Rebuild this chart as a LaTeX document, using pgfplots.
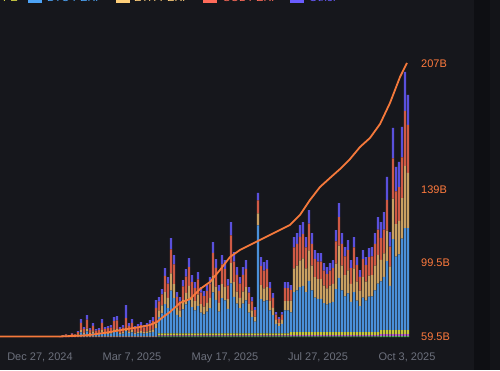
\documentclass[border=0pt]{standalone}
\usepackage{fontspec}
\setmainfont{Liberation Sans}
\usepackage{pgfplots}
\usepackage{pgfplotstable}
\pgfplotsset{compat=1.18}
\definecolor{bg}{RGB}{22,23,28}
\definecolor{strip}{RGB}{14,15,19}
\definecolor{strip2}{RGB}{19,20,24}
\definecolor{btc}{RGB}{74,144,217}
\definecolor{eth}{RGB}{201,160,98}
\definecolor{sol}{RGB}{207,90,69}
\definecolor{oth}{RGB}{90,80,220}
\definecolor{lime}{RGB}{200,200,60}
\definecolor{pink}{RGB}{180,90,200}
\definecolor{grn}{RGB}{76,175,80}
\definecolor{cum}{RGB}{245,121,59}
\definecolor{lab}{RGB}{255,122,61}
\definecolor{gtxt}{RGB}{108,112,124}
\definecolor{lgblue}{RGB}{77,163,245}
\definecolor{lgyel}{RGB}{255,207,122}
\definecolor{lgred}{RGB}{255,107,90}
\definecolor{lgpur}{RGB}{106,92,255}
\definecolor{lglime}{RGB}{220,220,70}

\pgfplotstableread{
x G P L btc eth sol oth
60 0 0.3 0.7 0 0 0 0
63 0 0.3 0.7 0.3 0.1 0.4 0.2
66 0 0.3 0.7 0.4 0.3 0.9 0.4
69 0 0.3 0.7 0.2 0.1 0.5 0.2
72 0 0.3 0.7 0.7 0.4 1.3 0.6
75 0 0.3 0.7 0.4 0.3 0.9 0.4
78 0 0.3 0.7 1.0 0.7 2.2 1.1
81 0 0.3 0.7 3.7 2.2 7.3 3.8
84 0 0.3 0.7 2.0 1.2 3.9 1.9
87 0 0.3 0.7 4.6 2.7 9.0 4.7
90 0 0.3 0.7 1.8 1.0 3.4 1.8
93 0 0.3 0.7 2.9 1.7 5.6 2.8
96 0 0.3 0.7 1.5 0.9 3.0 1.6
99 0 0.3 0.7 1.8 1.0 3.4 1.8
102 0 0.3 0.7 3.7 2.2 7.3 3.8
105 0 0.3 0.7 2.0 1.2 3.9 1.9
108 0 0.3 0.7 2.2 1.3 4.3 2.2
111 0 0.3 0.7 2.4 1.4 4.7 2.5
114 0 0.3 0.7 4.2 2.5 8.2 4.1
117 0 0.3 0.7 4.4 2.6 8.6 4.4
120 0 0.3 0.7 2.0 1.2 3.9 1.9
123 0 0.3 0.7 2.4 1.4 4.7 2.5
126 0 0.3 0.7 5.0 3.0 10.0 13.0
129 0 0.3 0.7 2.9 1.7 5.6 2.8
132 0 0.3 0.7 3.7 2.2 7.3 3.8
135 0 0.3 0.7 2.2 1.3 4.3 2.2
138 0 0.3 0.7 2.6 1.6 5.2 2.6
141 0 0.3 0.7 3.1 1.8 6.0 3.1
144 0 0.3 0.7 2.4 1.4 4.7 2.5
147 0 0.3 0.7 2.9 1.7 5.6 2.8
150 0 0.3 0.7 3.5 2.1 6.9 3.5
153 0 0.3 0.7 4.2 2.5 8.2 4.1
156 0 0.3 0.7 7.9 4.7 15.5 7.9
159 0.6 1 2 16.4 6.6 9.1 4.3
162 0.6 1 2 20.0 8.0 11.1 5.3
165 0.6 1 2 29.4 11.8 16.4 7.8
168 0.6 1 2 25.4 10.2 14.1 6.7
171 0.6 1 2 42.9 17.2 23.9 11.4
174 0.6 1 2 35.3 14.1 19.6 9.4
177 0.6 1 2 18.6 7.5 10.4 4.9
180 0.6 1 2 16.4 6.6 9.1 4.3
183 0.6 1 2 24.0 9.6 13.4 6.4
186 0.6 1 2 29.0 11.6 16.1 7.7
189 0.6 1 2 33.9 13.6 18.9 9.0
192 0.6 1 2 26.3 10.5 14.6 7.0
195 0.6 1 2 23.1 9.3 12.9 6.1
198 0.6 1 2 27.6 11.1 15.4 7.3
201 0.6 1 2 20.9 8.4 11.6 5.5
204 0.6 1 2 19.1 7.6 10.6 5.1
207 0.6 1 2 21.8 8.7 12.1 5.8
210 0.6 1 2 25.4 10.2 14.1 6.7
213 0.6 1 2 41.1 16.5 22.9 10.9
216 0.6 1 2 33.5 13.4 18.6 8.9
219 0.6 1 2 21.8 8.7 12.1 5.8
222 0.6 1 2 35.3 14.1 19.6 9.4
225 0.6 1 2 33.0 13.2 18.4 8.8
228 0.6 1 2 24.5 9.8 13.6 6.5
231 0.6 1 2 50.1 20.1 27.9 13.3
234 0.6 1 2 36.6 14.7 20.4 9.7
237 0.6 1 2 29.9 12.0 16.6 7.9
240 0.6 1 2 25.4 10.2 14.1 6.7
243 0.6 1 2 29.9 12.0 16.6 7.9
246 0.6 1 2 33.0 13.2 18.4 8.8
249 0.6 1 2 20.9 8.4 11.6 5.5
252 0.6 1 2 16.4 6.6 9.1 4.3
255 0.6 1 2 11.9 4.8 6.6 3.1
258 0.6 1 2 108.0 12.0 13.0 7.4
261 0.6 1 2 34.4 13.8 19.1 9.1
264 0.6 1 2 32.1 12.9 17.9 8.5
267 0.6 1 2 33.0 13.2 18.4 8.8
270 0.6 1 2 23.1 9.3 12.9 6.1
273 0.6 1 2 18.2 7.3 10.1 4.8
276 0.6 1 2 9.6 3.9 5.4 2.5
279 0.6 1 2 7.4 3.0 4.1 1.9
282 0.6 1 2 9.6 3.9 5.4 2.5
285 0.6 1 2 23.1 9.3 12.9 6.1
288 0.6 1 2 23.1 9.3 12.9 6.1
291 0.6 1.4 3 19.7 11.8 10.3 5.2
294 0.6 1.4 3 39.9 23.8 20.9 10.4
297 0.6 1.4 3 41.6 24.8 21.8 10.8
300 0.6 1.4 3 44.9 26.8 23.5 11.8
303 0.6 1.4 3 46.2 27.5 24.2 12.1
306 0.6 1.4 3 39.9 23.8 20.9 10.4
309 0.6 1.4 3 51.2 30.5 26.8 13.5
312 0.6 1.4 3 41.6 24.8 21.8 10.8
315 0.6 1.4 3 34.4 20.5 18.0 9.1
318 0.6 1.4 3 33.2 19.8 17.4 8.6
321 0.6 1.4 3 33.2 19.8 17.4 8.6
324 0.6 1.4 3 29.0 17.3 15.2 7.5
327 0.6 1.4 3 27.3 16.3 14.3 7.1
330 0.6 1.4 3 29.0 17.3 15.2 7.5
333 0.6 1.4 3 30.2 18.0 15.8 8.0
336 0.6 1.4 3 42.8 25.5 22.4 11.3
339 0.6 1.4 3 54.2 32.3 28.4 14.1
342 0.6 1.4 3 41.6 24.8 21.8 10.8
345 0.6 1.4 3 35.7 21.3 18.7 9.3
348 0.6 1.4 3 38.6 23.0 20.2 10.2
351 0.6 1.4 3 30.2 18.0 15.8 8.0
354 0.6 1.4 3 39.9 23.8 20.9 10.4
357 0.6 1.4 3 31.5 18.8 16.5 8.2
360 0.6 1.4 3 26.0 15.5 13.6 6.9
363 0.6 1.4 3 34.4 20.5 18.0 9.1
366 0.6 1.4 3 31.5 18.8 16.5 8.2
369 0.6 1.4 3 35.3 21.0 18.5 9.2
372 0.6 1.4 3 35.7 21.3 18.7 9.3
375 0.6 1.4 3 41.6 24.8 21.8 10.8
378 0.6 1.4 3 48.3 28.8 25.3 12.6
381 0.8 2 4.2 48.6 21.6 21.6 16.2
384 0.8 2 4.2 53.1 23.6 23.6 17.7
387 0.8 2 4.2 68.9 30.6 30.6 22.9
390 0.8 2 4.2 44.1 19.6 19.6 14.7
393 0.8 2 4.2 90.9 40.4 40.4 30.3
396 0.8 2 4.2 73.4 32.6 32.6 24.4
399 0.8 2 4.2 75.6 33.6 33.6 25.2
402 0.8 2 4.2 91.4 40.6 40.6 30.4
405 0.8 2 4.2 102.0 62.0 55.0 39.0
408 0.8 2 4.2 102.0 55.0 48.0 30.0
}\bars

\begin{document}
\begin{tikzpicture}[x=1pt,y=1pt]
\fill[bg] (0,0) rectangle (500,370);
\useasboundingbox (0,0) rectangle (500,370);
\clip (0,0) rectangle (500,370);
\fill[strip] (474,0) rectangle (490,370);
\fill[strip2] (490,0) rectangle (500,370);
% cropped legend at the top
\node[anchor=base east, inner sep=0pt, text=lglime, font=\fontsize{11}{13}\selectfont] at (18,368.6) {HYPE};
\fill[lgblue] (28,367) rectangle (42,381);
\node[anchor=base west, inner sep=0pt, text=lgblue, font=\fontsize{11}{13}\selectfont] at (47,368.6) {BTC-PERP};
\fill[lgyel] (116,367) rectangle (130,381);
\node[anchor=base west, inner sep=0pt, text=lgyel, font=\fontsize{11}{13}\selectfont] at (134,368.6) {ETH-PERP};
\fill[lgred] (203,367) rectangle (217,381);
\node[anchor=base west, inner sep=0pt, text=lgred, font=\fontsize{11}{13}\selectfont] at (223,368.6) {SOL-PERP};
\fill[lgpur] (290,367) rectangle (304,381);
\node[anchor=base west, inner sep=0pt, text=lgpur, font=\fontsize{11}{13}\selectfont] at (309,368.6) {Other};

\begin{axis}[
  at={(0pt,33pt)}, anchor=south west,
  scale only axis, width=410pt, height=300pt,
  xmin=0, xmax=410, ymin=0, ymax=300,
  ybar stacked, bar width=2.2pt,
  axis line style={draw=none}, tick style={draw=none},
  major tick length=0pt,
  ytick=\empty,
  xtick={40,132,225,318,407},
  xticklabels={{Dec 27, 2024},{Mar 7, 2025},{May 17, 2025},{Jul 27, 2025},{Oct 3, 2025}},
  xticklabel style={text=gtxt, font=\fontsize{11}{13}\selectfont, anchor=base, inner sep=0pt, yshift=-23pt},
  /pgf/number format/assume math mode=true,
]
\addplot[fill=grn, draw=none] table[x=x, y=G] {\bars};
\addplot[fill=pink, draw=none] table[x=x, y=P] {\bars};
\addplot[fill=lime, draw=none] table[x=x, y=L] {\bars};
\addplot[fill=btc, draw=none] table[x=x, y=btc] {\bars};
\addplot[fill=eth, draw=none] table[x=x, y=eth] {\bars};
\addplot[fill=sol, draw=none] table[x=x, y=sol] {\bars};
\addplot[fill=oth, draw=none] table[x=x, y=oth] {\bars};
\end{axis}

\begin{axis}[
  at={(0pt,33pt)}, anchor=south west,
  scale only axis, width=410pt, height=300pt,
  xmin=0, xmax=410, ymin=59.5, ymax=221.5,
  clip=false,
  axis y line*=right, hide x axis,
  axis line style={draw=none}, tick style={draw=none},
  major tick length=0pt,
  ytick={59.5,99.5,139,207},
  yticklabels={59.5B,99.5B,139B,207B},
  yticklabel style={text=lab, font=\fontsize{11}{13}\selectfont, anchor=west, inner sep=0pt, xshift=11pt},
  /pgf/number format/assume math mode=true,
]
\addplot[cum, line width=1.8pt, line join=round] coordinates {
(0,59.8) (60,59.8) (80,60.2) (90,60.6) (110,62.2) (127,63.8) (140,64.9) (150,66.0) (157,67.6) (163,70.3) (170,73.0) (180,77.9) (190,80.0) (200,85.4) (210,89.2) (220,95.7) (230,102.7) (240,106.5) (250,109.2) (260,111.9) (270,114.6) (280,117.3) (290,120.0) (300,125.4) (310,133.5) (320,140.5) (330,145.4) (340,150.2) (350,155.6) (360,162.1) (370,167.0) (380,174.5) (390,185.9) (400,199.9) (407,207.5)
};
\end{axis}
\end{tikzpicture}
\end{document}
